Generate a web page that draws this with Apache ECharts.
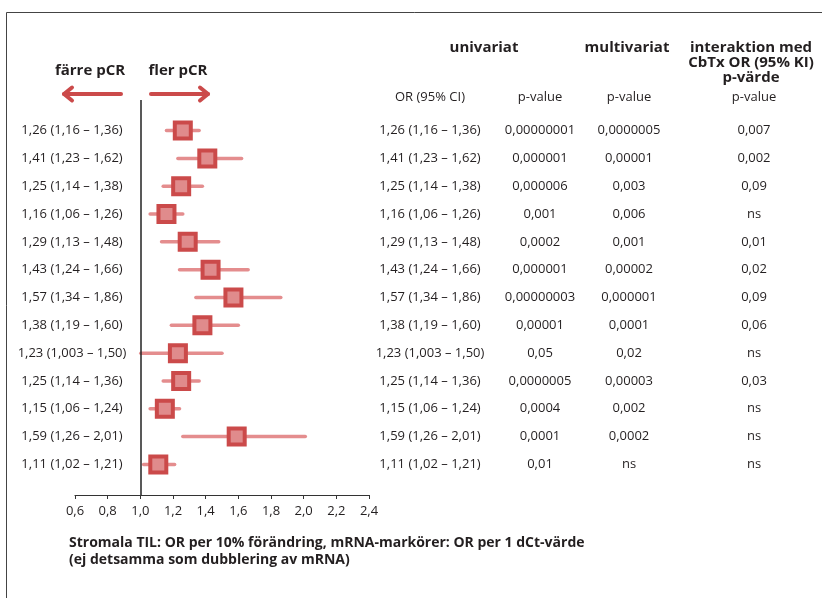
<!DOCTYPE html>
<html>
<head>
<meta charset="utf-8">
<script src="https://cdn.jsdelivr.net/npm/echarts@6/dist/echarts.min.js"></script>
<style>
html, body { margin: 0; padding: 0; background: #fff; }
#main { width: 822px; height: 598px; }
</style>
</head>
<body>
<div id="main"></div>
<script>
// odds ratios with 95% CI, one row per marker (top to bottom)
var orVals = [1.26, 1.41, 1.25, 1.16, 1.29, 1.43, 1.57, 1.38, 1.23, 1.25, 1.15, 1.59, 1.11];
var ciLow = [1.16, 1.23, 1.14, 1.06, 1.13, 1.24, 1.34, 1.19, 1.003, 1.14, 1.06, 1.26, 1.02];
var ciHigh = [1.36, 1.62, 1.38, 1.26, 1.48, 1.66, 1.86, 1.60, 1.50, 1.36, 1.24, 2.01, 1.21];
var pUni = ['0,00000001', '0,000001', '0,000006', '0,001', '0,0002', '0,000001', '0,00000003', '0,00001', '0,05', '0,0000005', '0,0004', '0,0001', '0,01'];
var pMulti = ['0,0000005', '0,00001', '0,003', '0,006', '0,001', '0,00002', '0,000001', '0,0001', '0,02', '0,00003', '0,002', '0,0002', 'ns'];
var pInter = ['0,007', '0,002', '0,09', 'ns', '0,01', '0,02', '0,09', '0,06', 'ns', '0,03', 'ns', 'ns', 'ns'];
var xTicks = [0.6, 0.8, 1.0, 1.2, 1.4, 1.6, 1.8, 2.0, 2.2, 2.4];

var FONT = 'Open Sans';
var TXT = '#231f20';
var RED = '#cb4a4a';

function fmt(v) {
	var s = String(v);
	var d = (s.split('.')[1] || '').length;
	return v.toFixed(Math.max(2, d)).replace('.', ',');
}
function ciText(i) {
	return fmt(orVals[i]) + ' (' + fmt(ciLow[i]) + ' \u2013 ' + fmt(ciHigh[i]) + ')';
}

var whiskerData = [], pointData = [], rowData = [];
for (var i = 0; i < orVals.length; i++) {
	whiskerData.push([ciLow[i], ciHigh[i], i]);
	pointData.push([orVals[i], i]);
	rowData.push([1, i]);
}

var myChart = echarts.init(document.getElementById('main'));

function txt(x, y, s, opt) {
	opt = opt || {};
	return {
		type: 'text', x: x, y: y, silent: true,
		style: {
			text: s, fill: TXT, align: opt.align || 'center', verticalAlign: 'middle',
			font: (opt.bold ? 'bold ' : '') + (opt.size || 13) + 'px "' + FONT + '"'
		}
	};
}

var option = {
	animation: false,
	backgroundColor: '#fff',
	grid: { left: 75, right: 453, top: 100, bottom: 103 },
	xAxis: {
		type: 'value', min: 0.6, max: 2.4, interval: 0.2,
		axisLine: { show: true, onZero: false, lineStyle: { color: '#333', width: 1.2 } },
		axisTick: { show: true, length: 4, lineStyle: { color: '#333' } },
		splitLine: { show: false },
		axisLabel: {
			color: TXT, fontFamily: FONT, fontSize: 13, margin: 10,
			formatter: function (v) { return v.toFixed(1).replace('.', ','); }
		}
	},
	yAxis: { type: 'value', inverse: true, min: -1.1, max: 13.1, show: false },
	graphic: [
		{ type: 'rect', shape: { x: 6.5, y: 12.5, width: 900, height: 700 }, style: { fill: 'none', stroke: '#444', lineWidth: 1 }, silent: true },
		txt(90, 71, 'färre pCR', { bold: true, size: 15 }),
		txt(178, 71, 'fler pCR', { bold: true, size: 15 }),
		{ type: 'polyline', shape: { points: [[121, 94], [64, 94]] }, style: { stroke: RED, lineWidth: 4, lineCap: 'round', fill: null } },
		{ type: 'polyline', shape: { points: [[72, 87.5], [64, 94], [72, 100.5]] }, style: { stroke: RED, lineWidth: 4, lineCap: 'round', lineJoin: 'round', fill: null } },
		{ type: 'polyline', shape: { points: [[151, 94], [208, 94]] }, style: { stroke: RED, lineWidth: 4, lineCap: 'round', fill: null } },
		{ type: 'polyline', shape: { points: [[200, 87.5], [208, 94], [200, 100.5]] }, style: { stroke: RED, lineWidth: 4, lineCap: 'round', lineJoin: 'round', fill: null } },
		txt(484, 48, 'univariat', { bold: true, size: 15 }),
		txt(627, 48, 'multivariat', { bold: true, size: 15 }),
		txt(751, 48, 'interaktion med', { bold: true, size: 15 }),
		txt(751, 63, 'CbTx OR (95% KI)', { bold: true, size: 15 }),
		txt(751, 78, 'p-värde', { bold: true, size: 15 }),
		txt(430, 97, 'OR (95% CI)'),
		txt(540, 97, 'p-value'),
		txt(629, 97, 'p-value'),
		txt(754, 97, 'p-value'),
		txt(69, 543, 'Stromala TIL: OR per 10% förändring, mRNA-markörer: OR per 1 dCt-värde', { bold: true, size: 14, align: 'left' }),
		txt(69, 560, '(ej detsamma som dubblering av mRNA)', { bold: true, size: 14, align: 'left' })
	],
	series: [
		{
			type: 'custom',
			z: 2,
			data: whiskerData,
			renderItem: function (params, api) {
				var a = api.coord([api.value(0), api.value(2)]);
				var b = api.coord([api.value(1), api.value(2)]);
				return {
					type: 'line',
					shape: { x1: a[0], y1: a[1], x2: b[0], y2: b[1] },
					style: { stroke: '#e48d8e', lineWidth: 3.5, lineCap: 'round' }
				};
			}
		},
		{
			type: 'scatter',
			z: 3,
			symbol: 'rect',
			symbolSize: 16,
			data: pointData,
			itemStyle: { color: '#e08b8c', borderColor: RED, borderWidth: 4, opacity: 1 },
			markLine: {
				silent: true, symbol: 'none',
				label: { show: false },
				lineStyle: { color: '#222', width: 1.5, type: 'solid' },
				data: [{ xAxis: 1 }]
			}
		},
		{
			// table text, rows placed on the same y scale as the markers
			type: 'custom',
			z: 4,
			clip: false,
			data: rowData,
			renderItem: function (params, api) {
				var i = params.dataIndex;
				var y = api.coord([api.value(0), api.value(1)])[1];
				return {
					type: 'group',
					children: [
						txt(72, y, ciText(i)),
						txt(430, y, ciText(i)),
						txt(540, y, pUni[i]),
						txt(629, y, pMulti[i]),
						txt(754, y, pInter[i])
					]
				};
			}
		}
	]
};
myChart.setOption(option);
</script>
</body>
</html>
